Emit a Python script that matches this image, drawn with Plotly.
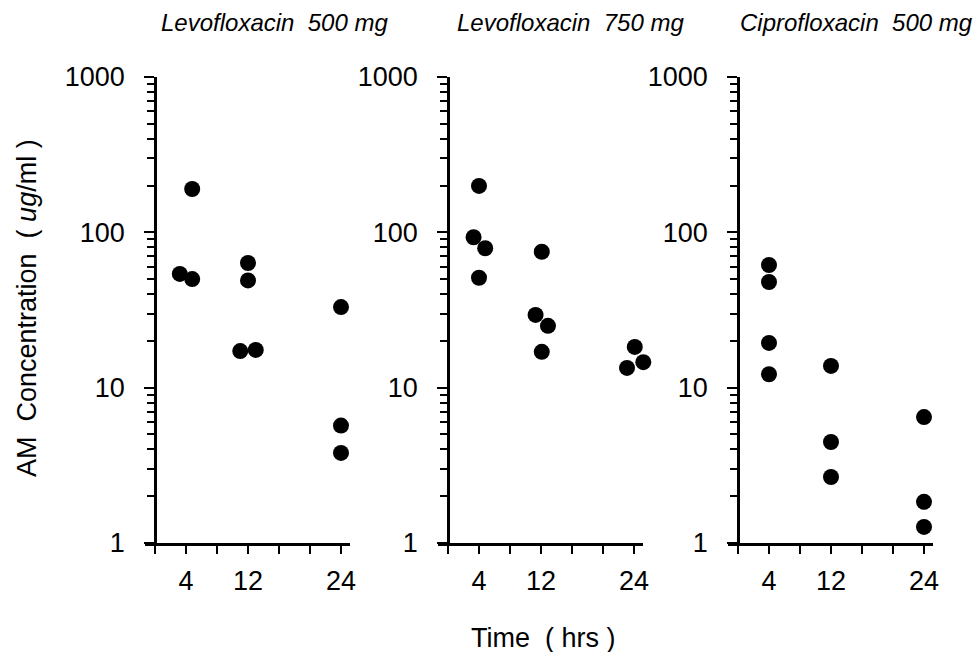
import plotly.graph_objects as go

# ---- data ----
panel_titles = ["Levofloxacin  500 mg", "Levofloxacin  750 mg", "Ciprofloxacin  500 mg"]

levo500_time = [3.2, 4.8, 4.8, 12.0, 12.0, 11.0, 13.0, 24.0, 24.0, 24.0]
levo500_conc = [54, 190, 50, 63.5, 49, 17.2, 17.5, 33, 5.7, 3.8]

levo750_time = [4.0, 3.3, 4.8, 4.0, 12.1, 11.3, 12.9, 12.1, 24.1, 23.1, 25.2]
levo750_conc = [199, 93, 79, 51, 75, 29.4, 25, 17, 18.3, 13.4, 14.6]

cipro500_time = [4, 4, 4, 4, 12, 12, 12, 24, 24, 24]
cipro500_conc = [61.6, 47.9, 19.4, 12.2, 13.8, 4.47, 2.66, 6.47, 1.84, 1.27]

x_tickvals = [0, 4, 8, 12, 16, 20, 24]
x_ticktext = ["", "4", "", "12", "", "", "24"]
y_tickvals = [1, 10, 100, 1000]
y_ticktext = ["1", "10", "100", "1000"]

series = [(levo500_time, levo500_conc), (levo750_time, levo750_conc), (cipro500_time, cipro500_conc)]

W, H = 976, 652


def fx(p):
    return p / W


def fy(p):
    return 1 - p / H


origins = [155, 448, 738]       # pixel x of time 0 for each panel
px_per_hr = 7.75
xr = [-1.3, 25.2]
y_top, y_bot = 77, 543

FONT = "Liberation Sans, Arial, sans-serif"
TICK_SIZE = 27

fig = go.Figure()
layout = dict(
    template="none",
    width=W, height=H, autosize=False,
    margin=dict(l=0, r=0, t=0, b=0, pad=0),
    paper_bgcolor="white", plot_bgcolor="white",
    showlegend=False,
    font=dict(family=FONT, color="black", size=26),
)

annotations = []
centers = [274, 570, 856]
for i, ((t, c), title) in enumerate(zip(series, panel_titles)):
    n = "" if i == 0 else str(i + 1)
    o = origins[i]
    x0 = o + xr[0] * px_per_hr
    x1 = o + xr[1] * px_per_hr
    fig.add_trace(go.Scatter(
        x=t, y=c, mode="markers",
        marker=dict(size=16, color="black", line=dict(width=0)),
        xaxis="x" + n, yaxis="y" + n, cliponaxis=False,
    ))
    layout["xaxis" + n] = dict(
        domain=[fx(x0), fx(x1)], range=xr, anchor="y" + n, automargin=False,
        showgrid=False, zeroline=False, showline=True, linewidth=2.5, linecolor="black",
        tickmode="array", tickvals=x_tickvals, ticktext=x_ticktext,
        ticks="outside", ticklen=8, tickwidth=2, tickcolor="black",
        ticklabelstandoff=4,
        tickfont=dict(size=TICK_SIZE, family=FONT, color="black"),
    )
    layout["yaxis" + n] = dict(
        domain=[fy(y_bot), fy(y_top)], type="log", range=[0, 3],
        anchor="free", position=fx(o), automargin=False,
        showgrid=False, zeroline=False, showline=True, linewidth=2.5, linecolor="black",
        tickmode="array", tickvals=y_tickvals, ticktext=y_ticktext,
        ticks="outside", ticklen=10, tickwidth=2, tickcolor="black",
        ticklabelstandoff=14,
        tickfont=dict(size=TICK_SIZE, family=FONT, color="black"),
        minor=dict(ticks="outside", ticklen=7, tickwidth=2, tickcolor="black", dtick="D1", showgrid=False),
    )
    annotations.append(dict(
        text="<i>" + title.replace("  ", "\u00a0\u00a0") + "</i>",
        x=fx(centers[i]), y=fy(22), xref="paper", yref="paper",
        showarrow=False, xanchor="center", yanchor="middle",
        font=dict(size=24, family=FONT, color="black"),
    ))

annotations.append(dict(
    text="Time\u00a0\u00a0( hrs )", x=fx(543), y=fy(638), xref="paper", yref="paper",
    showarrow=False, xanchor="center", yanchor="middle",
    font=dict(size=27, family=FONT, color="black"),
))
annotations.append(dict(
    text="AM\u00a0\u00a0Concentration\u00a0\u00a0( <i>ug</i>/ml )", x=fx(27), y=fy(308),
    xref="paper", yref="paper", textangle=-90,
    showarrow=False, xanchor="center", yanchor="middle",
    font=dict(size=27, family=FONT, color="black"),
))
layout["annotations"] = annotations
fig.update_layout(**layout)
# remove the browser's default 8px body margin so the figure fills the window
fig.write_html(
    "out.html",
    config={"displayModeBar": False},
    post_script="document.body.style.margin='0px';document.body.style.overflow='hidden';",
)
